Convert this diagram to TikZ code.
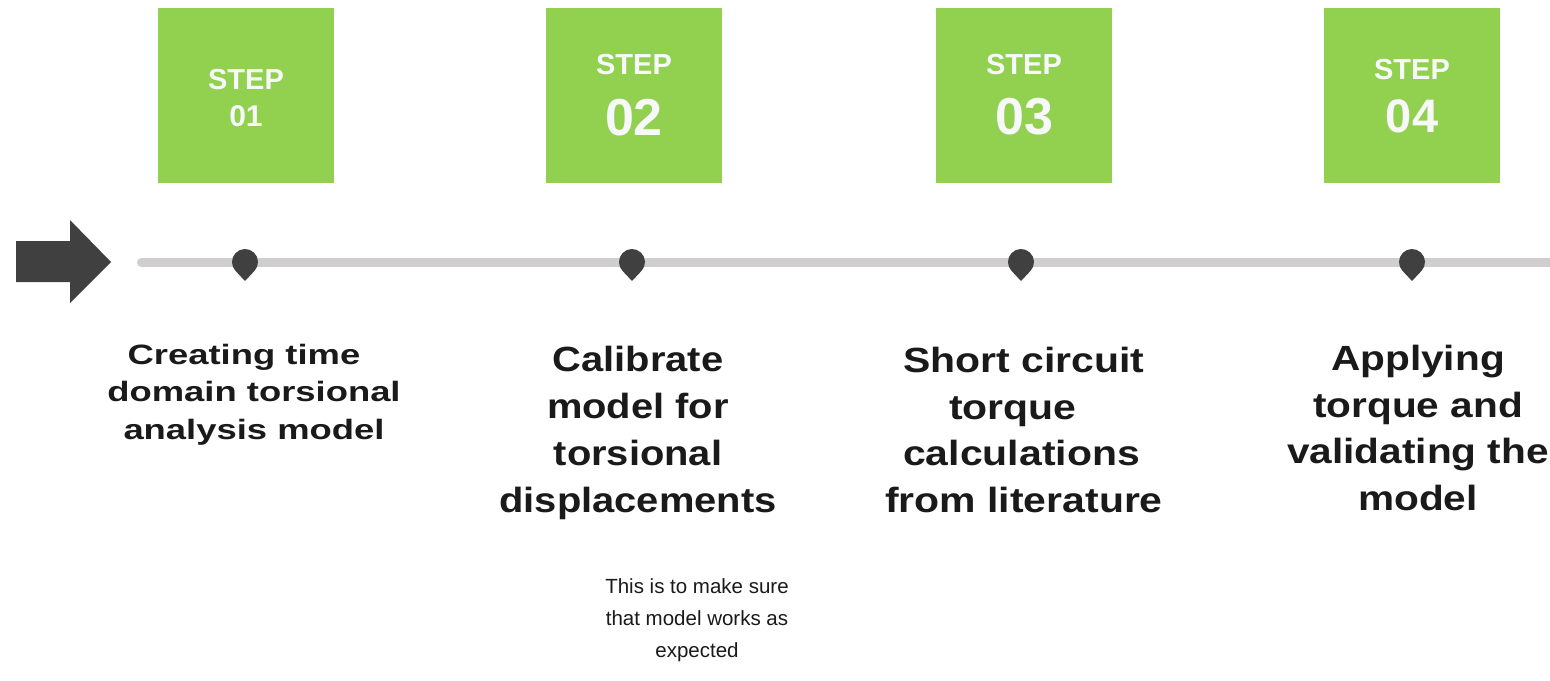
\documentclass[tikz,border=0pt]{standalone}
\usepackage{fontspec}
\setmainfont{Liberation Sans}
\definecolor{stepgreen}{HTML}{92D050}
\definecolor{pincol}{HTML}{404040}
\definecolor{linegray}{HTML}{D0CECE}
\definecolor{headtext}{HTML}{1A1A1A}
\definecolor{boxtext}{HTML}{F7F8FA}
\begin{document}
\begin{tikzpicture}[x=1pt,y=-1pt,
  stepbox/.style={fill=stepgreen, draw=none, minimum width=176pt, minimum height=175pt, inner sep=0pt, anchor=north west},
  steplabel/.style={text=boxtext, inner sep=0pt, anchor=base},
  heading/.style={text=headtext, align=center, inner sep=0pt, anchor=north},
  note/.style={text=headtext, align=center, inner sep=0pt, anchor=north,
    font=\fontsize{20.5}{32}\selectfont},
  pin/.pic={\fill[pincol] (-43.2:13pt) arc[start angle=-43.2, end angle=223.2, radius=13pt] -- (0pt,-19pt) -- cycle;}
]
\useasboundingbox (0,0) rectangle (1550,680);
\fill[white] (0,0) rectangle (1550,680);

% timeline
\coordinate (ls) at (141.5,262.5);
\coordinate (le) at (1555,262.5);
\draw[linegray, line width=9pt, line cap=round] (ls) -- (le);

% big arrow
\fill[pincol] (16,241) -- (70,241) -- (70,220) -- (111,262) -- (70,303) -- (70,282) -- (16,282) -- cycle;

% pins
\coordinate (p1) at (245,262);
\coordinate (p2) at (632,262);
\coordinate (p3) at (1021,262);
\coordinate (p4) at (1412,262);
\foreach \p in {p1,p2,p3,p4} \pic at (\p) {pin};

% step boxes
\node[stepbox] (b1) at (158,8) {};
\node[stepbox] (b2) at (546,8) {};
\node[stepbox] (b3) at (936,8) {};
\node[stepbox] (b4) at (1324,8) {};

\node[steplabel, font=\bfseries\fontsize{29}{29}\selectfont] (s1) at (246,89) {STEP};
\node[steplabel, font=\bfseries\fontsize{30}{30}\selectfont] (n1) at (246,126) {01};
\node[steplabel, font=\bfseries\fontsize{29}{29}\selectfont] (s2) at (634,74) {STEP};
\node[steplabel, font=\bfseries\fontsize{52}{52}\selectfont] (n2) at (634,135) {02};
\node[steplabel, font=\bfseries\fontsize{29}{29}\selectfont] (s3) at (1024,74) {STEP};
\node[steplabel, font=\bfseries\fontsize{52}{52}\selectfont] (n3) at (1024,134) {03};
\node[steplabel, font=\bfseries\fontsize{29}{29}\selectfont] (s4) at (1412,79) {STEP};
\node[steplabel, font=\bfseries\fontsize{47}{47}\selectfont] (n4) at (1412,132) {04};

% headings
\node[heading, font=\bfseries\fontsize{28}{37.5}\selectfont\addfontfeatures{FakeStretch=1.3}] (h1) at (254,344)
  {\hbox{Creating time\kern20pt}\\domain torsional\\analysis model};
\node[heading, font=\bfseries\fontsize{35}{47}\selectfont\addfontfeatures{FakeStretch=1.14}] (h2) at (638,346)
  {Calibrate\\model for\\torsional\\displacements};
\node[heading, font=\bfseries\fontsize{35}{46.5}\selectfont\addfontfeatures{FakeStretch=1.17}] (h3) at (1024,347)
  {Short circuit\\\hbox{torque\kern22pt}\\\hbox{calculations\kern5pt}\\from literature};
\node[heading, font=\bfseries\fontsize{35}{46.5}\selectfont\addfontfeatures{FakeStretch=1.16}] (h4) at (1418,345)
  {Applying\\torque and\\validating the\\model};

\node[note] (t2) at (697,578) {This is to make sure\\that model works as\\expected};
\end{tikzpicture}
\end{document}
